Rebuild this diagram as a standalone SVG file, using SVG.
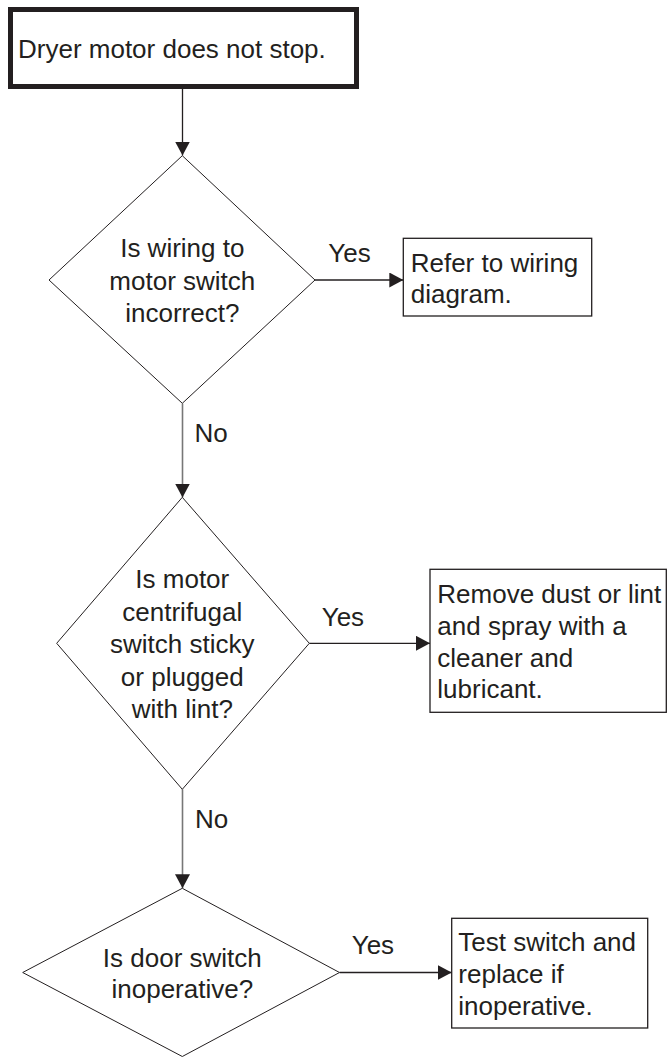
<svg xmlns="http://www.w3.org/2000/svg" width="667" height="1057" viewBox="0 0 667 1057">
<style>
text{font-family:"Liberation Sans",Arial,sans-serif;font-size:26px;fill:#231f20}
.c{text-anchor:middle}
.box{fill:#fff;stroke:#231f20;stroke-width:1.3}
.dia{fill:#fff;stroke:#231f20;stroke-width:1}
.ln{fill:none;stroke:#231f20;stroke-width:1.3}
.lg{fill:none;stroke:#777;stroke-width:1.6}
</style>
<defs>
<marker id="ah" markerUnits="userSpaceOnUse" markerWidth="15" markerHeight="16" refX="14" refY="7.5" orient="auto">
<path d="M0,0 L14,7.5 L0,15 z" fill="#231f20"/>
</marker>
</defs>
<rect width="667" height="1057" fill="#fff"/>
<g id="connectors">
<line class="ln" x1="182.5" y1="89" x2="182.5" y2="155.5" marker-end="url(#ah)"/>
<line class="ln" x1="315" y1="280" x2="403.3" y2="280" marker-end="url(#ah)"/>
<line class="lg" x1="182.5" y1="403.5" x2="182.5" y2="497.5" marker-end="url(#ah)"/>
<line class="ln" x1="309.3" y1="643.3" x2="430" y2="643.3" marker-end="url(#ah)"/>
<line class="lg" x1="182.5" y1="789.3" x2="182.5" y2="888.3" marker-end="url(#ah)"/>
<line class="ln" x1="339.5" y1="972.5" x2="451.7" y2="972.5" marker-end="url(#ah)"/>
<text x="328.3" y="261.7">Yes</text>
<text x="194.5" y="441.7">No</text>
<text x="321.7" y="626">Yes</text>
<text x="195" y="827.7">No</text>
<text x="351.7" y="954">Yes</text>
</g>
<g id="start">
<rect x="10.5" y="9.5" width="346" height="77" fill="#fff" stroke="#231f20" stroke-width="5"/>
<text x="18" y="58">Dryer motor does not stop.</text>
</g>
<g id="q1">
<polygon class="dia" points="182.3,155.7 315,280 182.3,403.3 49,280"/>
<text class="c" x="182.3" y="257.3">Is wiring to</text>
<text class="c" x="182.3" y="290">motor switch</text>
<text class="c" x="182.3" y="321.7">incorrect?</text>
</g>
<g id="a1">
<rect class="box" x="403.3" y="238.3" width="188.4" height="77.7"/>
<text x="410.7" y="271.7">Refer to wiring</text>
<text x="410.7" y="303.3">diagram.</text>
</g>
<g id="q2">
<polygon class="dia" points="182.3,497.3 309.3,643.3 182.3,789.3 56.7,643.3"/>
<text class="c" x="182.3" y="588.3">Is motor</text>
<text class="c" x="182.3" y="620.7">centrifugal</text>
<text class="c" x="182.3" y="653.3">switch sticky</text>
<text class="c" x="182.3" y="685.5">or plugged</text>
<text class="c" x="182.3" y="718.3">with lint?</text>
</g>
<g id="a2">
<rect class="box" x="430" y="569.3" width="236.3" height="143"/>
<text x="437.3" y="603.3">Remove dust or lint</text>
<text x="437.3" y="635">and spray with a</text>
<text x="437.3" y="666.7">cleaner and</text>
<text x="437.3" y="698.3">lubricant.</text>
</g>
<g id="q3">
<polygon class="dia" points="182.3,888.3 339.5,972.5 182.3,1056.5 22.7,972.5"/>
<text class="c" x="182.3" y="966.7">Is door switch</text>
<text class="c" x="182.3" y="998.3">inoperative?</text>
</g>
<g id="a3">
<rect class="box" x="451.7" y="918.3" width="196" height="109.7"/>
<text x="458.3" y="951">Test switch and</text>
<text x="458.3" y="983.3">replace if</text>
<text x="458.3" y="1015">inoperative.</text>
</g>
</svg>
